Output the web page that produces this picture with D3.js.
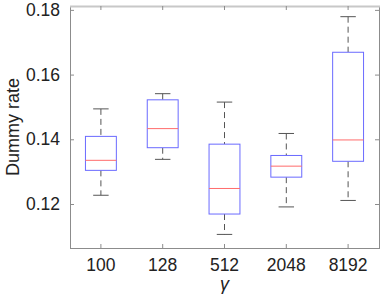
<!DOCTYPE html>
<html>
<head>
<meta charset="utf-8">
<script src="https://cdn.jsdelivr.net/npm/d3@7"></script>
<style>
  body { margin: 0; background: #fff; }
  text { font-family: "Liberation Sans", Arial, sans-serif; fill: #222; }
</style>
</head>
<body>
<div id="chart"></div>
<script>
// values
var categories = ["100", "128", "512", "2048", "8192"];
var whiskerLow = [0.1227, 0.1338, 0.1106, 0.1191, 0.1211];
var q1 = [0.1304, 0.1374, 0.1169, 0.1283, 0.1332];
var medians = [0.1335, 0.1433, 0.1248, 0.1317, 0.1398];
var q3 = [0.1409, 0.1522, 0.1385, 0.1350, 0.1669];
var whiskerHigh = [0.1494, 0.1541, 0.1515, 0.1418, 0.1779];
var yTicks = [0.12, 0.14, 0.16, 0.18];

var width = 382, height = 297;
var margin = {top: 6, right: 3, bottom: 49, left: 70};

var svg = d3.select("#chart").append("svg")
    .attr("width", width)
    .attr("height", height);

var g = svg.append("g")
    .attr("transform", "translate(" + margin.left + "," + margin.top + ")");

var w = width - margin.left - margin.right,
    h = height - margin.top - margin.bottom;

var x = d3.scaleBand().domain(categories).range([0, w]);
var y = d3.scaleLinear().domain([0.1064, 0.1812]).range([h, 0]);

var data = categories.map(function (c, i) {
    return {cat: c, lo: whiskerLow[i], q1: q1[i], med: medians[i], q3: q3[i], hi: whiskerHigh[i]};
});

var bw = x.bandwidth();

// frame
g.append("rect")
    .attr("x", 0.5).attr("y", 0.5)
    .attr("width", w).attr("height", h)
    .attr("fill", "none")
    .attr("stroke", "#8c8c8c");
g.append("line")
    .attr("x1", 0).attr("x2", w + 1)
    .attr("y1", 0.5).attr("y2", 0.5)
    .attr("stroke", "#c8c8c8")
    .attr("stroke-width", 2);

// axes with inward ticks
var xAxis = g.append("g")
    .attr("transform", "translate(0," + h + ")")
    .call(d3.axisBottom(x).tickSize(-4).tickPadding(11));
var xTop = g.append("g")
    .call(d3.axisTop(x).tickSize(-4).tickFormat(""));
var yAxis = g.append("g")
    .call(d3.axisLeft(y).tickValues(yTicks).tickSize(-4).tickPadding(10));
var yRight = g.append("g")
    .attr("transform", "translate(" + w + ",0)")
    .call(d3.axisRight(y).tickValues(yTicks).tickSize(-4).tickFormat(""));

[xAxis, xTop, yAxis, yRight].forEach(function (a) {
    a.select(".domain").remove();
    a.selectAll(".tick line").attr("stroke", "#8c8c8c");
    a.selectAll("text").attr("font-size", "17.5px").attr("fill", "#222")
        .attr("font-family", "Liberation Sans, Arial, sans-serif");
});

// whiskers
var box = g.selectAll(".box")
    .data(data)
    .enter()
    .append("g")
    .attr("class", "box")
    .attr("transform", function (d) {
        return "translate(" + (x(d.cat) + bw / 2) + ",0)";
    });

box.append("line")
    .attr("x1", 0).attr("x2", 0)
    .attr("y1", function (d) { return y(d.hi); })
    .attr("y2", function (d) { return y(d.q3); })
    .attr("stroke", "#555")
    .attr("stroke-dasharray", "6,4");
box.append("line")
    .attr("x1", 0).attr("x2", 0)
    .attr("y1", function (d) { return y(d.q1); })
    .attr("y2", function (d) { return y(d.lo); })
    .attr("stroke", "#555")
    .attr("stroke-dasharray", "6,4");

box.selectAll(".cap")
    .data(function (d) { return [d.lo, d.hi]; })
    .enter()
    .append("line")
    .attr("class", "cap")
    .attr("x1", -bw / 8).attr("x2", bw / 8)
    .attr("y1", function (v) { return y(v); })
    .attr("y2", function (v) { return y(v); })
    .attr("stroke", "#555");

box.append("rect")
    .attr("x", -bw / 4)
    .attr("width", bw / 2)
    .attr("y", function (d) { return y(d.q3); })
    .attr("height", function (d) { return y(d.q1) - y(d.q3); })
    .attr("fill", "#fff")
    .attr("stroke", "#6a6aff");

box.append("line")
    .attr("x1", -bw / 4).attr("x2", bw / 4)
    .attr("y1", function (d) { return y(d.med); })
    .attr("y2", function (d) { return y(d.med); })
    .attr("stroke", "#ff6b6b");

// labels
svg.append("text")
    .attr("transform", "translate(19," + (margin.top + h / 2) + ") rotate(-90)")
    .attr("text-anchor", "middle")
    .attr("font-size", "18px")
    .text("Dummy rate");

svg.append("text")
    .attr("x", margin.left + w / 2)
    .attr("y", 290)
    .attr("text-anchor", "middle")
    .attr("font-size", "18px")
    .attr("font-style", "italic")
    .attr("font-family", "DejaVu Serif, serif")
    .text("γ");
</script>
</body>
</html>
